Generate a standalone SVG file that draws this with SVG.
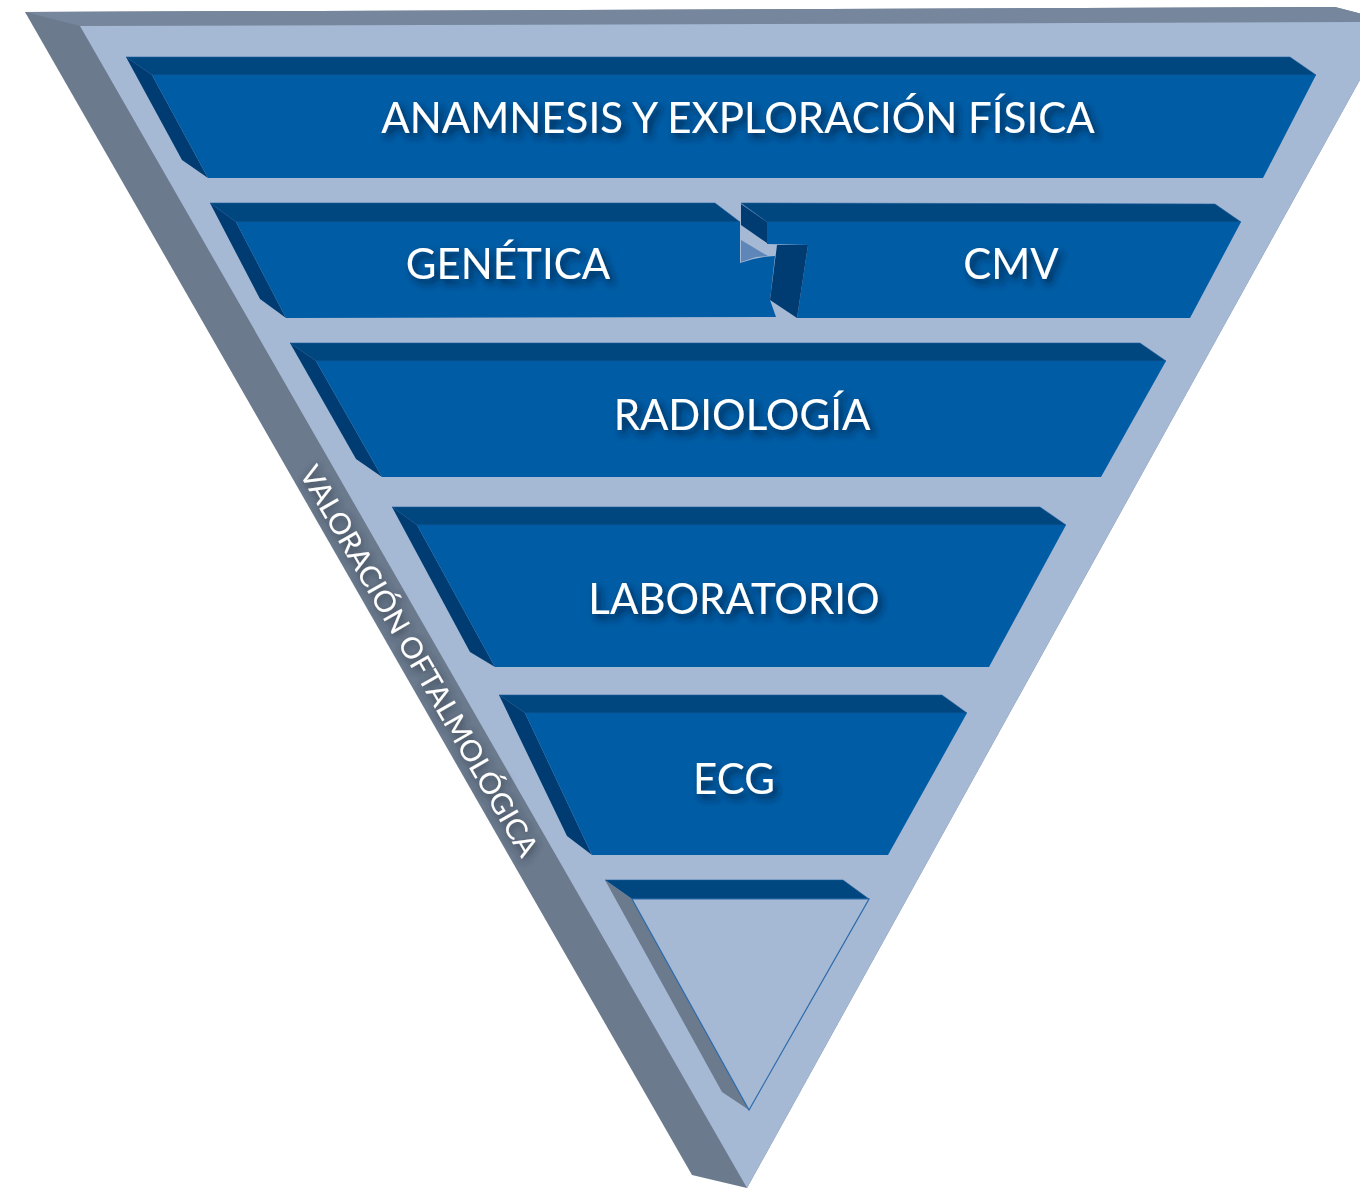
<svg xmlns="http://www.w3.org/2000/svg" width="1360" height="1188" viewBox="0 0 1360 1188">
<defs>
<filter id="ts" x="-10%" y="-40%" width="120%" height="190%">
<feDropShadow dx="4" dy="5" stdDeviation="3.5" flood-color="#00223f" flood-opacity="0.85"/>
</filter>
<filter id="ts2" x="-10%" y="-80%" width="120%" height="260%">
<feGaussianBlur in="SourceAlpha" stdDeviation="4.5" result="b"/>
<feOffset in="b" dx="1" dy="3" result="o"/>
<feFlood flood-color="#27313e" flood-opacity="0.95"/>
<feComposite in2="o" operator="in" result="s"/>
<feMerge><feMergeNode in="s"/><feMergeNode in="SourceGraphic"/></feMerge>
</filter>
<style>
.face{fill:#005CA4;}
.strip{fill:#00467F;stroke:#1F5F9E;stroke-width:0.6;}
.bevel{fill:#003C72;}
.lbl{font-family:Lato,"Liberation Sans",sans-serif;font-size:42px;fill:#ffffff;text-anchor:middle;}
.side{font-family:Lato,"Liberation Sans",sans-serif;font-size:29px;fill:#ffffff;text-anchor:middle;}
</style>
</defs>
<rect width="1360" height="1188" fill="#ffffff"/>

<g id="frame">
<polygon points="25,12 1335,7 1392,22 747,1188 692,1175" fill="#6B7A8D"/>
<polygon points="25,12 1335,7 1392,22 80,26" fill="#76879D"/>
<polygon points="80,26 1392,22 747,1188" fill="#A5B9D5"/>
<g filter="url(#ts2)">
<text class="side" transform="translate(419,661) rotate(60)" x="0" y="10" textLength="446" lengthAdjust="spacingAndGlyphs">VALORACIÓN OFTALMOLÓGICA</text>
</g>
</g>

<g id="anamnesis">
<polygon class="strip" points="126,57 1290,57 1316,75 152,75"/>
<polygon class="bevel" points="126,57 152,75 208,178 182,160"/>
<polygon class="face" points="152,75 1316,75 1263,178 208,178"/>
<text class="lbl" x="738" y="133" filter="url(#ts)">ANAMNESIS Y EXPLORACIÓN FÍSICA</text>
</g>

<g id="genetica">
<polygon class="strip" points="210,203 715,203 740,222 236,222"/>
<polygon class="bevel" points="210,203 236,222 286,318 260,299"/>
<path class="face" d="M236,222 L740,222 L740,263 Q756,257 775,256 L770,300 L776,317 L286,318 Z"/>
<polygon points="741,240 768,256 756,257 741,262" fill="#5F86B8"/>
<text class="lbl" x="508" y="279" filter="url(#ts)">GENÉTICA</text>
</g>

<g id="cmv">
<polygon class="strip" points="741,203 1215,204 1241,222 767,222"/>
<polygon class="bevel" points="741,204 767,222 767,243 741,225"/>
<polygon class="face" points="767,222 1241,222 1190,318 797,318 808,245 767,244"/>
<polygon class="bevel" points="777,245 808,245 797,318 770,300"/>
<text class="lbl" x="1011" y="279" filter="url(#ts)">CMV</text>
</g>

<g id="radiologia">
<polygon class="strip" points="290,343 1140,343 1166,361 316,361"/>
<polygon class="bevel" points="290,343 316,361 382,477 356,459"/>
<polygon class="face" points="316,361 1166,361 1101,477 382,477"/>
<text class="lbl" x="742" y="430" filter="url(#ts)">RADIOLOGÍA</text>
</g>

<g id="laboratorio">
<polygon class="strip" points="392,507 1040,507 1066,525 417,525"/>
<polygon class="bevel" points="392,507 417,525 495,667 470,652"/>
<polygon class="face" points="417,525 1066,525 989,667 495,667"/>
<text class="lbl" x="734" y="614" filter="url(#ts)">LABORATORIO</text>
</g>

<g id="ecg">
<polygon class="strip" points="499,695 942,695 967,713 525,713"/>
<polygon class="bevel" points="499,695 525,713 592,855 567,836"/>
<polygon class="face" points="525,713 967,713 888,855 592,855"/>
<text class="lbl" x="734" y="794" filter="url(#ts)">ECG</text>
</g>

<g id="base">
<polygon class="strip" points="605,880 843,880 869,899 632,899"/>
<polygon points="605,880 632,899 749,1110 722,1092" fill="#6B7A8D"/>
<polygon points="632,899 869,899 749,1110" fill="#A5B9D5" stroke="#2D6BAA" stroke-width="1.2"/>
</g>

<g id="connectors"/>
</svg>
